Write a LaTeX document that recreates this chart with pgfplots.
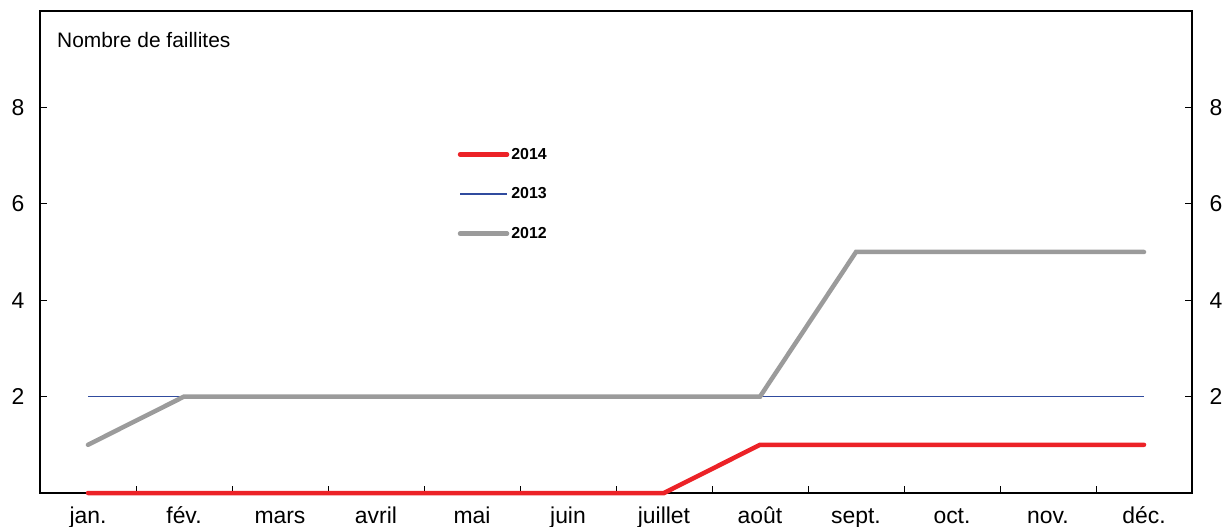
\documentclass[border=0pt]{standalone}
\usepackage{fontspec}
\setmainfont{Liberation Sans}
\usepackage{pgfplots}
\pgfplotsset{compat=1.18}
\definecolor{cRed}{RGB}{236,34,39}
\definecolor{cBlue}{RGB}{48,75,158}
\definecolor{cGray}{RGB}{155,155,155}
\begin{document}
\begin{tikzpicture}
\begin{axis}[
  at={(0bp,0bp)}, anchor=south west,
  scale only axis, width=1152bp, height=482bp,
  xmin=-0.5, xmax=11.5, ymin=0, ymax=10,
  clip=false,
  axis line style={line width=1.5bp, black},
  tick align=inside,
  xtick={0,...,11},
  xticklabels={jan.,fév.,mars,avril,mai,juin,juillet,août,sept.,oct.,nov.,déc.},
  major x tick style={draw=none},
  minor xtick={0.5,1.5,...,10.5},
  minor tick length=7bp,
  major tick length=7bp,
  every tick/.style={black, line width=1bp},
  xtick pos=left,
  ytick={2,4,6,8},
  ytick pos=both,
  yticklabel pos=left,
  /pgf/number format/assume math mode=true,
  tick label style={font=\fontsize{23}{26}\selectfont},
  yticklabel style={xshift=-12bp},
  xticklabel style={anchor=north, inner sep=0pt, text height=17bp, text depth=5bp, yshift=-13bp},
  legend style={at={(axis cs:3.85,7.2)}, anchor=north west, draw=none, fill=none,
     font=\bfseries\fontsize{16}{19}\selectfont, row sep=23bp, inner sep=0pt},
  legend cell align=left,
  legend image code/.code={\draw[#1] (0bp,0bp) -- (47bp,0bp);},
]
\addplot[cRed, line width=4.5bp, line cap=round] coordinates {(0,0) (1,0) (2,0) (3,0) (4,0) (5,0) (6,0) (7,1) (8,1) (9,1) (10,1) (11,1)};
\addlegendentry{2014}
\addplot[cBlue, line width=1.8bp] coordinates {(0,2) (1,2) (2,2) (3,2) (4,2) (5,2) (6,2) (7,2) (8,2) (9,2) (10,2) (11,2)};
\addlegendentry{2013}
\addplot[cGray, line width=4.5bp, line cap=round] coordinates {(0,1) (1,2) (2,2) (3,2) (4,2) (5,2) (6,2) (7,2) (8,5) (9,5) (10,5) (11,5)};
\addlegendentry{2012}
\node[anchor=base west, font=\fontsize{21}{24}\selectfont, inner sep=0pt] at (axis cs:-0.323,9.253) {Nombre de faillites};
\end{axis}
\begin{axis}[
  at={(0bp,0bp)}, anchor=south west,
  scale only axis, width=1152bp, height=482bp,
  xmin=-0.5, xmax=11.5, ymin=0, ymax=10,
  hide x axis,
  axis y line*=right,
  y axis line style={draw=none},
  ytick style={draw=none},
  ytick={2,4,6,8},
  /pgf/number format/assume math mode=true,
  tick label style={font=\fontsize{23}{26}\selectfont},
  yticklabel style={xshift=14bp},
]
\addplot[draw=none] coordinates {(0,0)};
\end{axis}
\pgfresetboundingbox
\path[use as bounding box] (-40bp,-34bp) rectangle (1185bp,493bp);
\end{tikzpicture}
\end{document}
